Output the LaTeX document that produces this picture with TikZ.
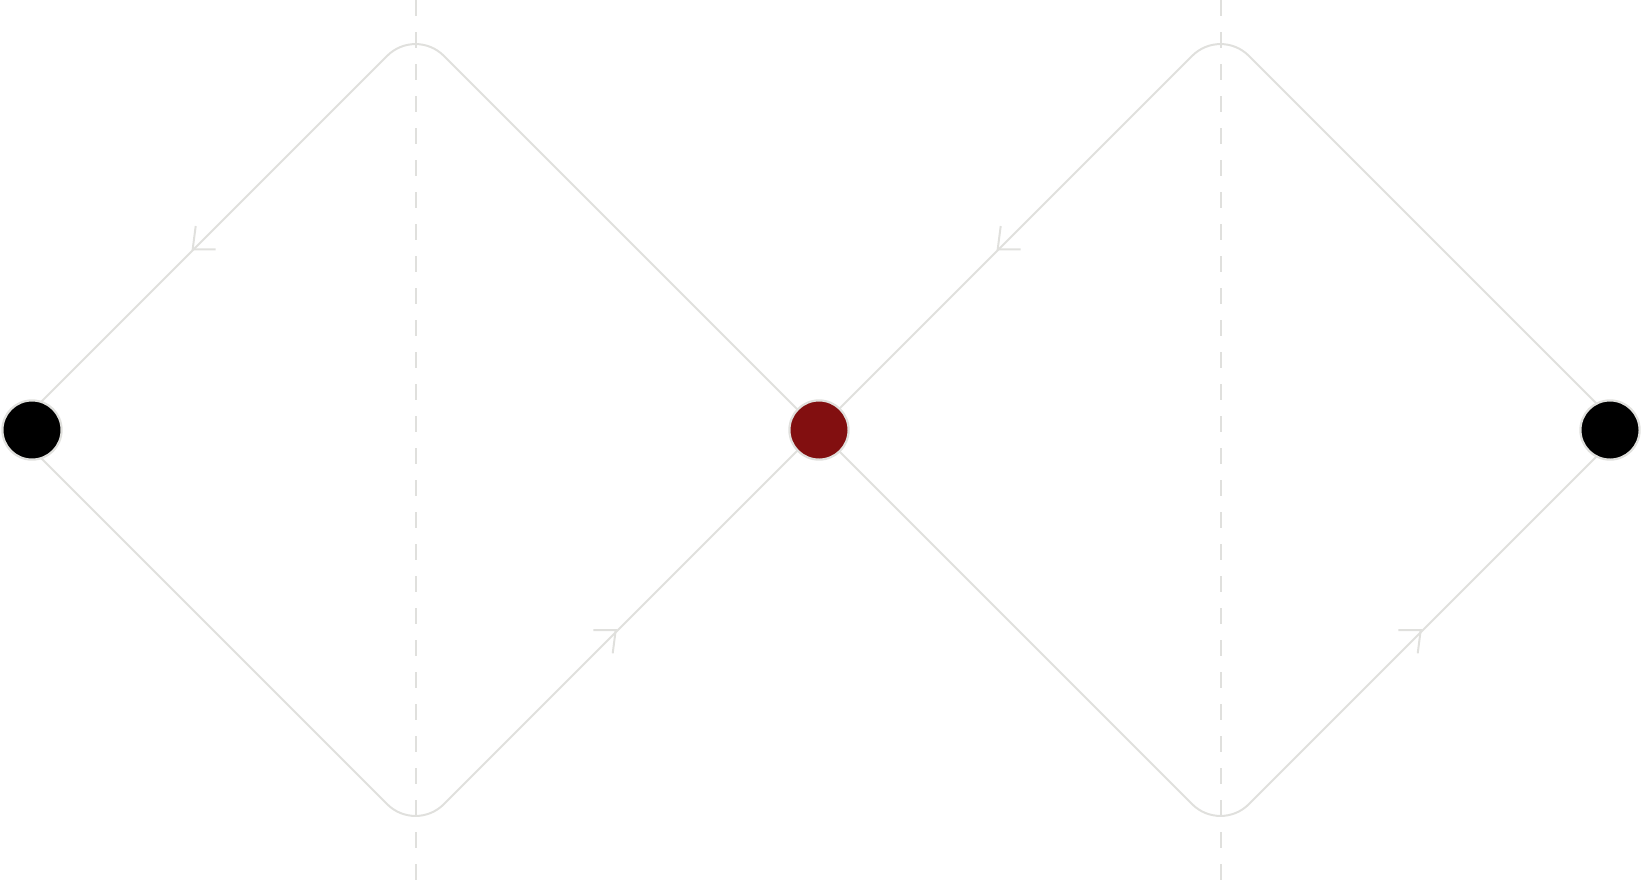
\documentclass[tikz,border=0pt]{standalone}
\usetikzlibrary{calc}
\definecolor{edgegray}{RGB}{224,224,221}
\definecolor{dotred}{RGB}{130,15,16}
\begin{document}
\begin{tikzpicture}[x=0.5pt,y=-0.5pt,
  wire/.style={draw=edgegray,line width=1pt,rounded corners=20pt},
  barb/.style={draw=edgegray,line width=1pt},
  guide/.style={draw=edgegray,line width=1pt,dash pattern=on 8pt off 8pt},
  dot/.style={circle,draw=edgegray,line width=1.1pt,minimum size=29.6pt,inner sep=0pt}]
\useasboundingbox (0,0) rectangle (1642,885);
% corner points of the two diamonds
\coordinate (v0) at (13,430);
\coordinate (t1) at (415.5,27.5);
\coordinate (b1) at (415.5,832.5);
\coordinate (v1) at (818,430);
\coordinate (t2) at (1220.5,27.5);
\coordinate (b2) at (1220.5,832.5);
\coordinate (v2) at (1623,430);
% guide line ends
\coordinate (g1top) at (415.5,0);
\coordinate (g1bot) at (415.5,885);
\coordinate (g2top) at (1220.5,0);
\coordinate (g2bot) at (1220.5,885);
% arrow tips
\coordinate (a1) at (192.7,249.3);
\coordinate (a2) at (615.7,630);
\coordinate (a3) at (997.7,249.3);
\coordinate (a4) at (1420.7,630);
% diamonds
\draw[wire] (v0) -- (b1) -- (v1);
\draw[wire] (v1) -- (t1) -- (v0);
\draw[wire] (v1) -- (b2) -- (v2);
\draw[wire] (v2) -- (t2) -- (v1);
% dashed guides
\draw[guide] (g1top) -- (g1bot);
\draw[guide] (g2top) -- (g2bot);
% arrowheads
\draw[barb] ($(a1)+(3,-23.3)$) -- (a1) -- ++(23,0);
\draw[barb] ($(a2)+(-22.4,0)$) -- (a2) -- ++(-3,23.3);
\draw[barb] ($(a3)+(3,-23.3)$) -- (a3) -- ++(23,0);
\draw[barb] ($(a4)+(-22.4,0)$) -- (a4) -- ++(-3,23.3);
% nodes
\node[dot,fill=black] (n0) at (32,430) {};
\node[dot,fill=dotred] (n1) at (819,430) {};
\node[dot,fill=black] (n2) at (1610,430) {};
\end{tikzpicture}
\end{document}
